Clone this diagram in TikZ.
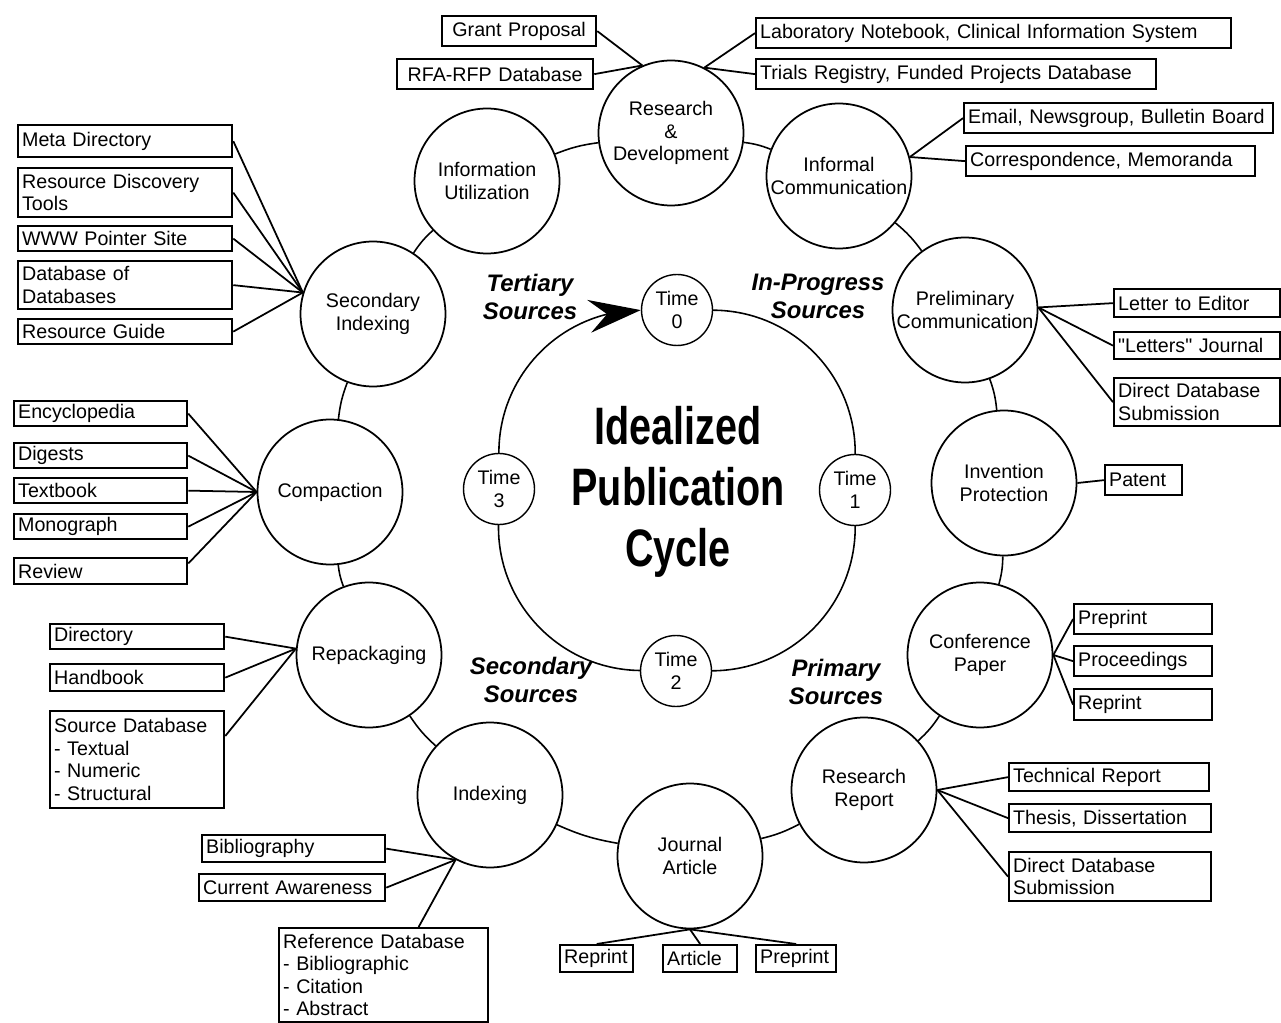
\documentclass[tikz,border=0pt]{standalone}
\usepackage{fontspec}
\setmainfont{Liberation Sans}
\newfontfamily\narrowsans[FakeStretch=0.75]{Liberation Sans}
\newfontfamily\straightq[Ligatures=TeXOff]{Liberation Sans}
\usetikzlibrary{arrows.meta,bending}
\newlength{\boxtw}
\newcommand{\lblfont}{\fontsize{11.2pt}{12.8pt}\selectfont}
\newcommand{\srcfont}{\fontsize{13.6pt}{15.9pt}\selectfont\bfseries\itshape}
\newcommand{\cyclefont}{\narrowsans\bfseries\fontsize{30pt}{34.6pt}\selectfont}
\newcommand{\dq}{{\straightq"}}

\begin{document}
\begin{tikzpicture}[x=0.02cm, y=-0.02cm,
    stage/.style={draw, circle, line width=1pt, inner sep=0pt, minimum size=2.9cm,
                  align=center, font=\lblfont},
    timestep/.style={draw, circle, line width=0.8pt, inner sep=0pt, minimum size=1.42cm,
                  align=center, font=\lblfont},
    src/.style 2 args={draw, line width=1.3pt, anchor=north west, align=left,
                  inner xsep=0.08cm, inner ysep=0pt, font=\lblfont,
                  /utils/exec={\pgfmathsetlength{\boxtw}{#1*0.02cm-0.16cm}},
                  text width=\boxtw, minimum height=#2*0.02cm},
    link/.style={line width=1pt},
    ring/.style={line width=0.9pt}]
  \useasboundingbox (0,0) rectangle (1281,1023);

  % stages round the outer ring
  \node[stage] (rd)  at (671,133) {Research\\\&\\Development};
  \node[stage] (inf) at (839,176) {Informal\\Communication};
  \node[stage] (pre) at (965,310) {Preliminary\\Communication};
  \node[stage] (inv) at (1004,483) {Invention\\Protection};
  \node[stage] (con) at (980,655) {Conference\\Paper};
  \node[stage] (rr)  at (864,790) {Research\\Report};
  \node[stage] (ja)  at (690,856) {Journal\\Article};
  \node[stage] (idx) at (490,795) {Indexing};
  \node[stage] (rep) at (369,655) {Repackaging};
  \node[stage] (cmp) at (330,492) {Compaction};
  \node[stage] (sec) at (373,314) {Secondary\\Indexing};
  \node[stage] (iu)  at (487,181) {Information\\Utilization};
  \foreach \a/\b in {rd/inf, inf/pre, pre/inv, inv/con, con/rr, rr/ja,
                     ja/idx, idx/rep, rep/cmp, cmp/sec, sec/iu, iu/rd}
    \draw[ring] (\a) to[bend left=7] (\b);

  % inner cycle
  \node[timestep] (t0) at (677,310) {Time\\0};
  \node[timestep] (t1) at (855,490) {Time\\1};
  \node[timestep] (t2) at (676,671) {Time\\2};
  \node[timestep] (t3) at (499,489) {Time\\3};
  \draw[ring] (t0) to[bend left=45] (t1);
  \draw[ring] (t1) to[bend left=45] (t2);
  \draw[ring] (t2) to[bend left=45] (t3);
  \draw[ring, -{Stealth[length=1.04cm, width=0.66cm, inset=0.36cm, flex]}]
    (t3) to[bend left=45] (t0);

  \node[font=\cyclefont, align=center] (title) at (678,492) {Idealized\\Publication\\Cycle};
  \node[font=\srcfont, align=center] (tert)   at (530,297) {Tertiary\\Sources};
  \node[font=\srcfont, align=center] (inprog) at (818,296) {In-Progress\\Sources};
  \node[font=\srcfont, align=center] (second) at (531,680) {Secondary\\Sources};
  \node[font=\srcfont, align=center] (prim)   at (836,682) {Primary\\Sources};

  % Research & Development
  \node[src={154}{30}, align=center] (grant) at (441,15) {Grant Proposal};
  \node[src={196}{30}, align=center] (rfa) at (396,58) {RFA-RFP Database};
  \node[src={475}{30}] (lab) at (755,17) {Laboratory Notebook, Clinical Information System};
  \node[src={400}{30}] (trials) at (755,58) {Trials Registry, Funded Projects Database};
  \draw[link] (rd.113) -- (grant.east);
  \draw[link] (rd.113) -- (rfa.east);
  \draw[link] (rd.63) -- (lab.west);
  \draw[link] (rd.63) -- (trials.west);

  % Informal Communication
  \node[src={309}{30}] (email) at (963,102) {Email, Newsgroup, Bulletin Board};
  \node[src={289}{30}] (corr) at (965,145) {Correspondence, Memoranda};
  \draw[link] (inf.15) -- (email.west);
  \draw[link] (inf.15) -- (corr.west);

  % Preliminary Communication
  \node[src={166}{28}] (letter) at (1113,288) {Letter to Editor};
  \node[src={166}{27}] (ljour) at (1113,331) {\dq Letters\dq{} Journal};
  \node[src={166}{48}] (ddbpre) at (1113,377) {Direct Database\\Submission};
  \draw[link] (pre.2) -- (letter.west);
  \draw[link] (pre.2) -- (ljour.west);
  \draw[link] (pre.2) -- (ddbpre.west);

  % Invention Protection
  \node[src={77}{30}] (patent) at (1104,464) {Patent};
  \draw[link] (inv.east) -- (patent.west);

  % Conference Paper
  \node[src={138}{30}] (cpre) at (1073,603) {Preprint};
  \node[src={138}{30}] (cproc) at (1073,645) {Proceedings};
  \node[src={138}{31}] (crep) at (1073,688) {Reprint};
  \draw[link] (con.east) -- (cpre.west);
  \draw[link] (con.east) -- (cproc.west);
  \draw[link] (con.east) -- (crep.west);

  % Research Report
  \node[src={200}{28}] (tech) at (1008,762) {Technical Report};
  \node[src={202}{28}] (thesis) at (1008,803) {Thesis, Dissertation};
  \node[src={202}{49}] (ddbrr) at (1008,851) {Direct Database\\Submission};
  \draw[link] (rr.east) -- (tech.west);
  \draw[link] (rr.east) -- (thesis.west);
  \draw[link] (rr.east) -- (ddbrr.west);

  % Journal Article
  \node[src={73}{27}] (jrep) at (559,944) {Reprint};
  \node[src={74}{27}] (jart) at (662,944) {Article};
  \node[src={80}{27}] (jpre) at (755,944) {Preprint};
  \draw[link] (ja.south) -- (jrep.north);
  \draw[link] (ja.south) -- (jart.north);
  \draw[link] (ja.south) -- (jpre.north);

  % Indexing
  \node[src={183}{27}] (bib) at (201,834) {Bibliography};
  \node[src={186}{27}] (cur) at (198,873) {Current Awareness};
  \node[src={209}{94}] (refdb) at (278,927)
       {Reference Database\\- Bibliographic\\- Citation\\- Abstract};
  \draw[link] (idx.242) -- (bib.east);
  \draw[link] (idx.242) -- (cur.east);
  \draw[link] (idx.242) -- (refdb.54);

  % Repackaging
  \node[src={174}{25}] (dir) at (49,623) {Directory};
  \node[src={174}{27}] (hand) at (49,663) {Handbook};
  \node[src={174}{97}] (srcdb) at (49,710)
       {Source Database\\- Textual\\- Numeric\\- Structural};
  \draw[link] (rep.175) -- (dir.east);
  \draw[link] (rep.175) -- (hand.east);
  \draw[link] (rep.175) -- (srcdb.15);

  % Compaction
  \node[src={173}{25}] (enc) at (13,400) {Encyclopedia};
  \node[src={173}{25}] (dig) at (13,442) {Digests};
  \node[src={173}{25}] (txt) at (13,477) {Textbook};
  \node[src={173}{25}] (mono) at (13,513) {Monograph};
  \node[src={173}{26}] (rev) at (13,557) {Review};
  \foreach \b in {enc, dig, txt, mono}
    \draw[link] (cmp.west) -- (\b.east);
  \draw[link] (cmp.west) -- (rev.5);

  % Secondary Indexing
  \node[src={214}{32}] (meta) at (17,124) {Meta Directory};
  \node[src={214}{49}] (rdt) at (17,167) {Resource Discovery\\Tools};
  \node[src={214}{25}] (www) at (17,225) {WWW Pointer Site};
  \node[src={214}{48}] (dod) at (17,260) {Database of\\Databases};
  \node[src={214}{25}] (rg) at (17,318) {Resource Guide};
  \foreach \b in {meta, rdt, www, dod, rg}
    \draw[link] (sec.163) -- (\b.east);
\end{tikzpicture}
\end{document}
